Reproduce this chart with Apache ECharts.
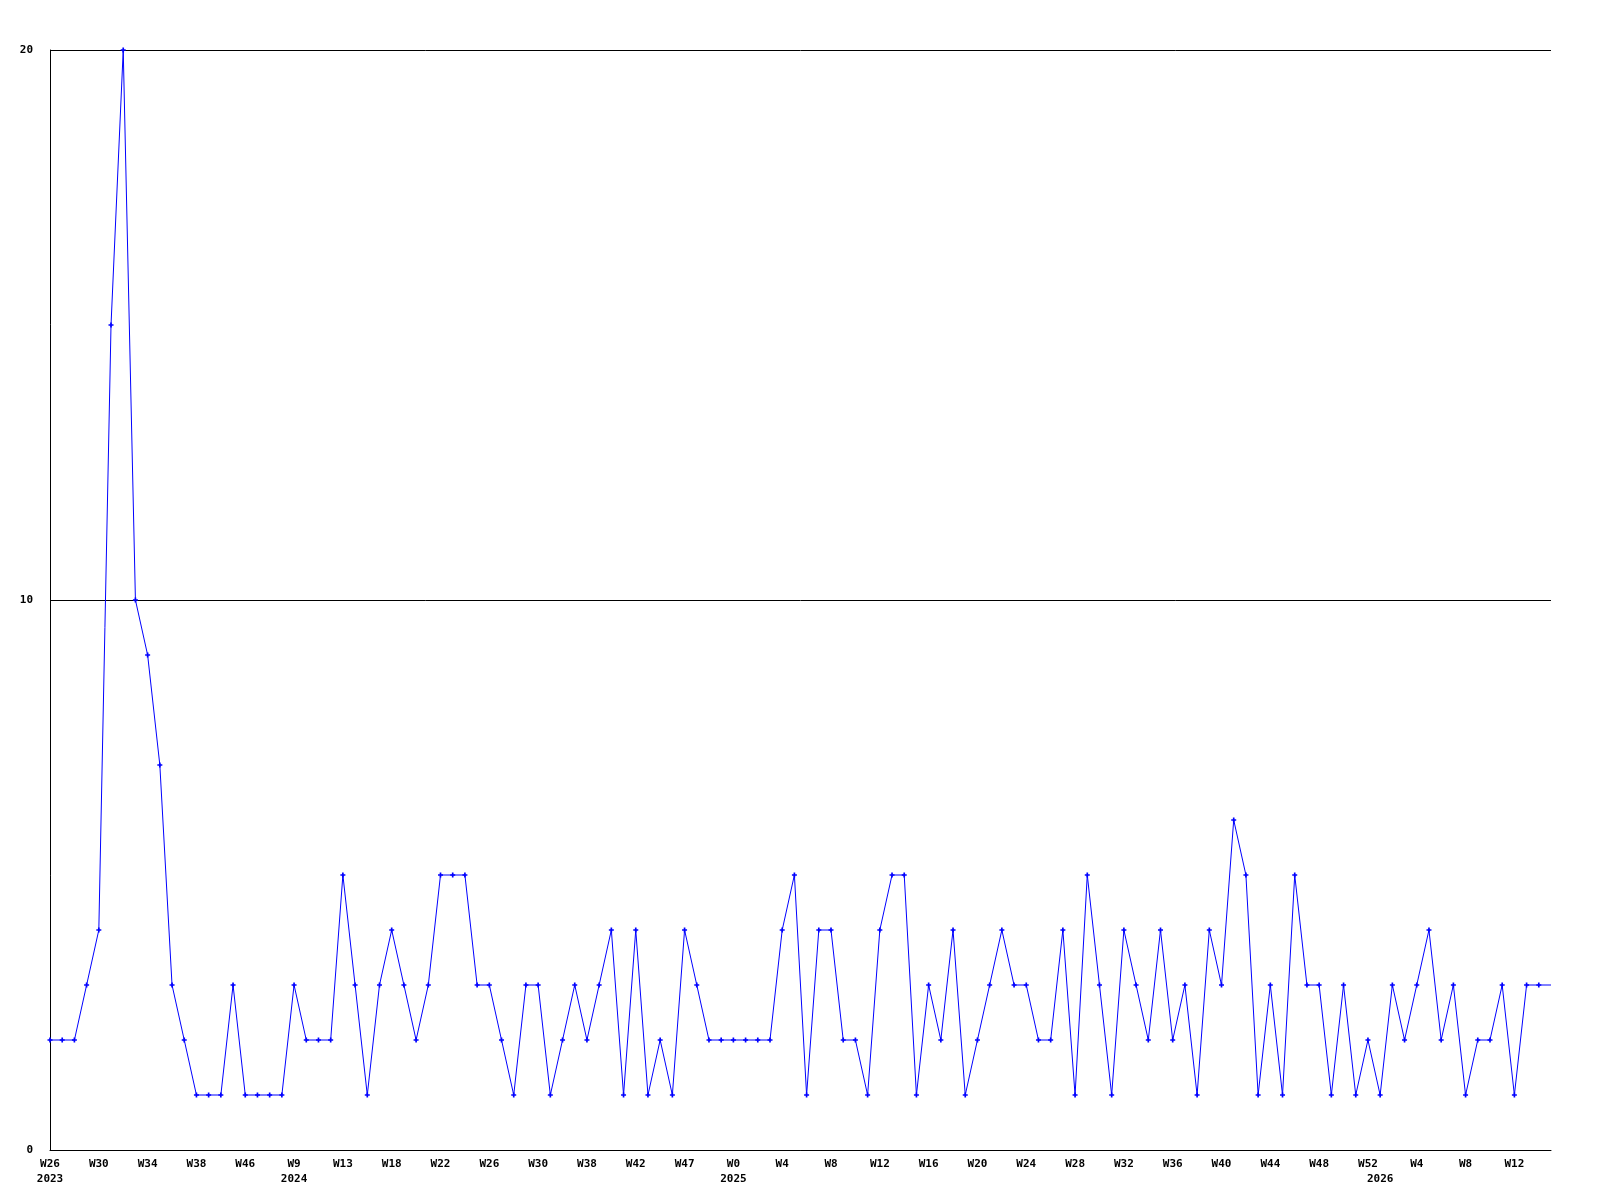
<!DOCTYPE html>
<html>
<head>
<meta charset="utf-8">
<script src="https://cdn.jsdelivr.net/npm/echarts@6/dist/echarts.min.js"></script>
<style>
html,body{margin:0;padding:0;background:#fff;}
#chart{width:1600px;height:1200px;}
</style>
</head>
<body>
<div id="chart"></div>
<script>
// Weekly counts (one point per week)
const values = [
  2,2,2,3,4,15,20,10,9,7,
  3,2,1,1,1,3,1,1,1,1,
  3,2,2,2,5,3,1,3,4,3,
  2,3,5,5,5,3,3,2,1,3,
  3,1,2,3,2,3,4,1,4,1,
  2,1,4,3,2,2,2,2,2,2,
  4,5,1,4,4,2,2,1,4,5,
  5,1,3,2,4,1,2,3,4,3,
  3,2,2,4,1,5,3,1,4,3,
  2,4,2,3,1,4,3,6,5,1,
  3,1,5,3,3,1,3,1,2,1,
  3,2,3,4,2,3,1,2,2,3,
  1,3,3,3
];
// Week tick labels, shown every 4th point
const weekLabels = [
  "W26","W30","W34","W38","W46","W9","W13","W18","W22","W26",
  "W30","W38","W42","W47","W0","W4","W8","W12","W16","W20",
  "W24","W28","W32","W36","W40","W44","W48","W52","W4","W8","W12"
];
// Year labels: [point index, year]
const yearIdx = [0, 20, 56, 109];
const yearText = ["2023", "2024", "2025", "2026"];
const yTicks = [0, 10, 20];

const categories = values.map((v, i) => String(i));
const labelFor = {};
weekLabels.forEach((w, k) => { labelFor[k * 4] = w; });
const yearFor = {};
yearIdx.forEach((idx, k) => { yearFor[idx] = yearText[k]; });

const data = values.map((v, i) => i === values.length - 1 ? {value: v, symbol: 'none'} : v);

const chart = echarts.init(document.getElementById('chart'), null, {renderer: 'canvas'});
const font = '"DejaVu Sans Mono", "Liberation Mono", monospace';
chart.setOption({
  animation: false,
  backgroundColor: '#ffffff',
  grid: {left: 50, right: 49, top: 50, bottom: 50, containLabel: false},
  xAxis: {
    type: 'category',
    data: categories,
    boundaryGap: false,
    axisLine: {show: true, lineStyle: {color: '#000', width: 1}},
    axisTick: {show: false},
    splitLine: {show: false},
    axisLabel: {
      interval: function (i) { return labelFor[i] !== undefined || yearFor[i] !== undefined; },
      formatter: function (val, i) {
        const w = labelFor[i] !== undefined ? labelFor[i] : '';
        const y = yearFor[i] !== undefined ? yearFor[i] : '';
        return y ? (w + '\n' + y) : w;
      },
      color: '#000',
      fontFamily: font,
      fontWeight: 'bold',
      fontSize: 11,
      lineHeight: 15,
      margin: 7,
      verticalAlign: 'top',
      hideOverlap: false
    }
  },
  yAxis: {
    type: 'value',
    min: 0,
    max: 20,
    interval: 10,
    axisLine: {show: true, lineStyle: {color: '#000', width: 1}},
    axisTick: {show: false},
    splitLine: {show: true, lineStyle: {color: '#000', width: 1}},
    axisLabel: {
      color: '#000',
      fontFamily: font,
      fontWeight: 'bold',
      fontSize: 11,
      margin: 17,
      formatter: function (v) { return yTicks.indexOf(v) >= 0 ? String(v) : ''; }
    }
  },
  series: [{
    type: 'line',
    data: data,
    symbol: 'path://M1,0H2V1H3V2H2V3H1V2H0V1H1Z',
    symbolSize: 5,
    showAllSymbol: true,
    itemStyle: {color: '#0000ff'},
    lineStyle: {color: '#0000ff', width: 1},
    emphasis: {disabled: true}
  }]
});
</script>
</body>
</html>
